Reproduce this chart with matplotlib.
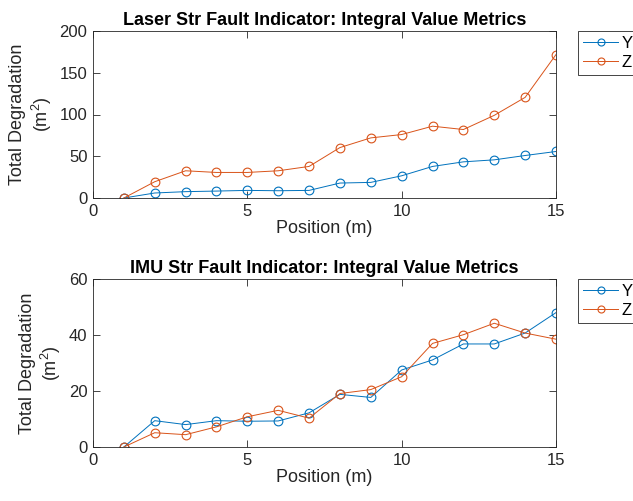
import numpy as np
import matplotlib
matplotlib.use('Agg')
import matplotlib.pyplot as plt

plt.rcParams['font.family'] = ['Liberation Sans', 'DejaVu Sans']
plt.rcParams['mathtext.fontset'] = 'custom'
plt.rcParams['mathtext.rm'] = 'Liberation Sans'

position = np.arange(1, 16)

# Laser
laser_y = [0, 6.0, 7.6, 8.3, 9.1, 8.7, 9.1, 17.9, 18.7, 26.6, 37.8, 43.3, 45.7, 50.9, 55.7]
laser_z = [0, 19.5, 32.6, 30.6, 30.6, 32.6, 37.8, 60.4, 72.0, 76.0, 86.0, 82.0, 99.0, 120.5, 171.8]

# IMU
imu_y = [0, 9.4, 8.0, 9.4, 9.2, 9.3, 12.2, 18.8, 17.7, 27.5, 31.1, 36.8, 36.8, 40.7, 48.0]
imu_z = [0, 5.1, 4.4, 7.2, 10.8, 13.1, 10.3, 19.1, 20.5, 25.1, 37.0, 40.1, 44.2, 40.7, 38.5]

blue = '#0072BD'
orange = '#D95319'
dark = '#262626'

fig = plt.figure(figsize=(6.33, 5.01), dpi=100)
W, H = 633, 501
ax1 = fig.add_axes([93 / W, 1 - 198 / H, (556 - 93) / W, (198 - 31) / H])
ax2 = fig.add_axes([93 / W, 1 - 447 / H, (556 - 93) / W, (447 - 279) / H])

panels = [
    (ax1, laser_y, laser_z, 'Laser Str Fault Indicator: Integral Value Metrics', [0, 200], [0, 50, 100, 150, 200], 31),
    (ax2, imu_y, imu_z, 'IMU Str Fault Indicator: Integral Value Metrics', [0, 60], [0, 20, 40, 60], 279),
]

for ax, ys, zs, title, ylim, yticks, leg_top in panels:
    ax.plot(position, ys, '-o', color=blue, lw=0.7, ms=6.3, mfc='none', mew=0.8, label='Y')
    ax.plot(position, zs, '-o', color=orange, lw=0.7, ms=6.3, mfc='none', mew=0.8, label='Z')
    ax.set_xlim(0, 15)
    ax.set_ylim(*ylim)
    ax.set_xticks([0, 5, 10, 15])
    ax.set_yticks(yticks)
    ax.tick_params(direction='in', top=True, right=True, labelsize=12, length=5, width=0.6,
                   colors=dark, pad=4)
    for sp in ax.spines.values():
        sp.set_linewidth(0.6)
        sp.set_color(dark)
    ax.set_title(title, fontsize=13, fontweight='bold', pad=4)
    ax.set_xlabel('Position (m)', fontsize=13, labelpad=1, color=dark)
    ax.set_ylabel('Total Degradation\n(m$^2$)', fontsize=13, labelpad=4, color=dark)
    leg = ax.legend(loc='upper left', bbox_to_anchor=(578 / W, 1 - leg_top / H),
                    bbox_transform=fig.transFigure, fontsize=12, handlelength=2.1,
                    markerscale=0.8, fancybox=False, edgecolor=dark, framealpha=1,
                    borderpad=0.3, labelspacing=0.25, handletextpad=0.2, borderaxespad=0)
    leg.get_frame().set_linewidth(0.6)

fig.savefig('out.png', dpi=100)
